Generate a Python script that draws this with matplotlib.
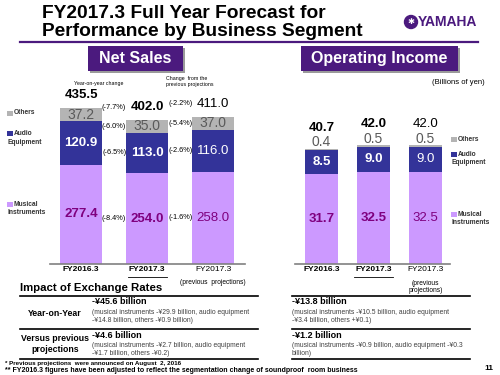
import matplotlib.pyplot as plt
from matplotlib.patches import Rectangle, Ellipse
from matplotlib.lines import Line2D

plt.rcParams['font.family'] = ['Liberation Sans', 'DejaVu Sans']

# data
years = ['FY2016.3', 'FY2017.3', 'FY2017.3']
sales_musical = [277.4, 254.0, 258.0]
sales_audio = [120.9, 113.0, 116.0]
sales_others = [37.2, 35.0, 37.0]
sales_total = [435.5, 402.0, 411.0]
income_musical = [31.7, 32.5, 32.5]
income_audio = [8.5, 9.0, 9.0]
income_others = [0.4, 0.5, 0.5]
income_total = [40.7, 42.0, 42.0]
# order: total, others, audio, musical
yoy_change = ['(-7.7%)', '(-6.0%)', '(-6.5%)', '(-8.4%)']
prev_change = ['(-2.2%)', '(-5.4%)', '(-2.6%)', '(-1.6%)']

PURPLE = '#4B1A7E'
C_MUS = '#CC99FF'
C_AUD = '#333399'
C_OTH = '#B4B4B4'
MUS_TXT = '#7F007F'
OTH_TXT = '#5A5A5A'
LEG_TXT = '#333333'

fig = plt.figure(figsize=(5, 3.75), dpi=100)


def ftext(x, y, s, **kw):
    kw.setdefault('va', 'center')
    fig.text(x / 500, 1 - y / 375, s, **kw)


def hline(x0, x1, y, color='black', lw=1.0):
    fig.add_artist(Line2D([x0 / 500, x1 / 500], [1 - y / 375] * 2, color=color, lw=lw))


def frect(x0, y0, x1, y1, color):
    fig.add_artist(Rectangle((x0 / 500, 1 - y1 / 375), (x1 - x0) / 500, (y1 - y0) / 375,
                             transform=fig.transFigure, color=color, lw=0))


# header
ftext(42, 13, 'FY2017.3 Full Year Forecast for', fontsize=13.8, weight='bold')
ftext(42, 32, 'Performance by Business Segment', fontsize=13.8, weight='bold')
hline(20, 478, 42, PURPLE, 1.6)
fig.add_artist(Ellipse((411 / 500, 1 - 22 / 375), 13 / 500, 13 / 375, transform=fig.transFigure, color=PURPLE))
ftext(411, 22, '✱', fontsize=6, color='white', ha='center')
ftext(418, 22, 'YAMAHA', fontsize=10, weight='bold', color=PURPLE)

frect(90, 48, 185, 73, '#9A9A9A')
frect(88, 46, 183, 71, PURPLE)
ftext(135.5, 58.5, 'Net Sales', fontsize=11.5, weight='bold', color='white', ha='center')
frect(303, 48, 460, 73, '#9A9A9A')
frect(301, 46, 458, 71, PURPLE)
ftext(379.5, 58.5, 'Operating Income', fontsize=11.5, weight='bold', color='white', ha='center')


def panel(ax, musical, audio, others, total, ppu, others_inside, sub):
    x = list(range(3))
    w = 0.635
    mid = [m + a for m, a in zip(musical, audio)]
    ax.bar(x, musical, w, color=C_MUS, lw=0)
    ax.bar(x, audio, w, bottom=musical, color=C_AUD, lw=0)
    ax.bar(x, others, w, bottom=mid, color=C_OTH, lw=0)
    for i in x:
        wt = 'bold' if i < 2 else 'normal'
        ax.text(i, musical[i] / 2, f'{musical[i]:.1f}', ha='center', va='center',
                fontsize=9.5, weight=wt, color=MUS_TXT)
        ax.text(i, musical[i] + audio[i] / 2, f'{audio[i]:.1f}', ha='center', va='center',
                fontsize=9.5, weight=wt, color='white')
        oy = mid[i] + others[i] / 2 if others_inside else mid[i] + 8 / ppu
        ax.text(i, oy, f'{others[i]:.1f}', ha='center', va='center',
                fontsize=10, color=OTH_TXT)
        ty = total[i] + (13 if others_inside else 21) / ppu
        ax.text(i, ty, f'{total[i]:.1f}', ha='center', va='center',
                fontsize=9.5, weight=wt, color='black')
        tr = ax.get_xaxis_transform()
        ax.text(i, -0.033, years[i], transform=tr, ha='center', va='center',
                fontsize=6, weight=wt)
    half = 19.5 / (66 if others_inside else 52)
    ax.plot([1 - half, 1 + half], [-0.072, -0.072], transform=ax.get_xaxis_transform(),
            color='black', lw=0.6, clip_on=False)
    ax.text(2, sub[1], sub[0], transform=ax.get_xaxis_transform(), ha='center', va='center',
            fontsize=4.8, linespacing=1.0)
    for s in ['top', 'left', 'right']:
        ax.spines[s].set_visible(False)
    ax.spines['bottom'].set_color('#808080')
    ax.spines['bottom'].set_linewidth(1.2)
    ax.set_xticks([])
    ax.set_yticks([])
    ax.patch.set_alpha(0)
    return mid


# net sales panel
ax1 = fig.add_axes([50 / 500, 111 / 375, 195 / 500, 180 / 375])
ax1.set_xlim(-0.47, 2.48)
ax1.set_ylim(0, 180 / 0.358)
mid1 = panel(ax1, sales_musical, sales_audio, sales_others, sales_total, 0.358, True,
             ('(previous  projections)', -0.1))

for j, labels in enumerate([yoy_change, prev_change]):
    b = j + 1
    ys = [sales_total[b] + 13 / 0.358, mid1[b] + sales_others[b] / 2,
          sales_musical[b] + sales_audio[b] / 2, sales_musical[b] / 2]
    for lab, yv in zip(labels, ys):
        ax1.text(j + 0.5, yv, lab, ha='center', va='center', fontsize=5.3)

ftext(99, 84, 'Year-on-year change', fontsize=3.8, ha='center')
ftext(166, 81.5, 'Change  from the\nprevious projections', fontsize=3.8, linespacing=1.1)

# operating income panel
ax2 = fig.add_axes([295 / 500, 111 / 375, 155 / 500, 180 / 375])
ax2.set_xlim(-0.51, 2.47)
ax2.set_ylim(0, 180 / 2.83)
panel(ax2, income_musical, income_audio, income_others, income_total, 2.83, False,
      ('(previous\nprojections)', -0.128))
ftext(458, 82, '(Billions of yen)', fontsize=5.5, ha='center')

# legends
for lx, entries in [(7, [(113, C_OTH, 'Others', None), (133.5, C_AUD, 'Audio', 'Equipment'),
                         (204.5, C_MUS, 'Musical', 'Instruments')]),
                    (451, [(139.5, C_OTH, 'Others', None), (154.5, C_AUD, 'Audio', 'Equipment'),
                           (214.5, C_MUS, 'Musical', 'Instruments')])]:
    for yy, col, l1, l2 in entries:
        frect(lx, yy - 2.5, lx + 5.5, yy + 2.5, col)
        ftext(lx + 6.5, yy, l1, fontsize=4.8, weight='bold', color=LEG_TXT)
        if l2:
            ftext(lx, yy + 8.5, l2, fontsize=4.8, weight='bold', color=LEG_TXT)

# exchange rate table
ftext(20, 288, 'Impact of Exchange Rates', fontsize=8.2, weight='bold')
for y in [296, 329, 359]:
    hline(20, 258, y, 'black', 1.2)
    hline(292, 470, y, 'black', 1.2)
ftext(55, 313, 'Year-on-Year', fontsize=6.3, weight='bold', ha='center')
ftext(55, 344, 'Versus previous\nprojections', fontsize=6.3, weight='bold', ha='center',
      linespacing=1.3)
rows = [
    (302, '-¥45.6 billion', '(musical instruments -¥29.9 billion, audio equipment\n-¥14.8 billion, others -¥0.9 billion)',
     '-¥13.8 billion', '(musical instruments -¥10.5 billion, audio equipment\n-¥3.4 billion, others +¥0.1)'),
    (335, '-¥4.6 billion', '(musical instruments -¥2.7 billion, audio equipment\n-¥1.7 billion, others -¥0.2)',
     '-¥1.2 billion', '(musical instruments -¥0.9 billion, audio equipment -¥0.3\nbillion)'),
]
for y, h1, d1, h2, d2 in rows:
    ftext(92, y, h1, fontsize=6.5, weight='bold')
    ftext(92, y + 14.5, d1, fontsize=4.9, color='#404040', linespacing=1.3)
    ftext(292, y, h2, fontsize=6.5, weight='bold')
    ftext(292, y + 14.5, d2, fontsize=4.9, color='#404040', linespacing=1.3)

ftext(5, 363, '* Previous projections  were announced on August  2, 2016', fontsize=4.5, weight='bold')
ftext(5, 371, '** FY2016.3 figures have been adjusted to reflect the segmentation change of soundproof  room business',
      fontsize=5.0, weight='bold')
ftext(489, 368, '11', fontsize=6, weight='bold', ha='center')

fig.savefig('out.png', dpi=100)
